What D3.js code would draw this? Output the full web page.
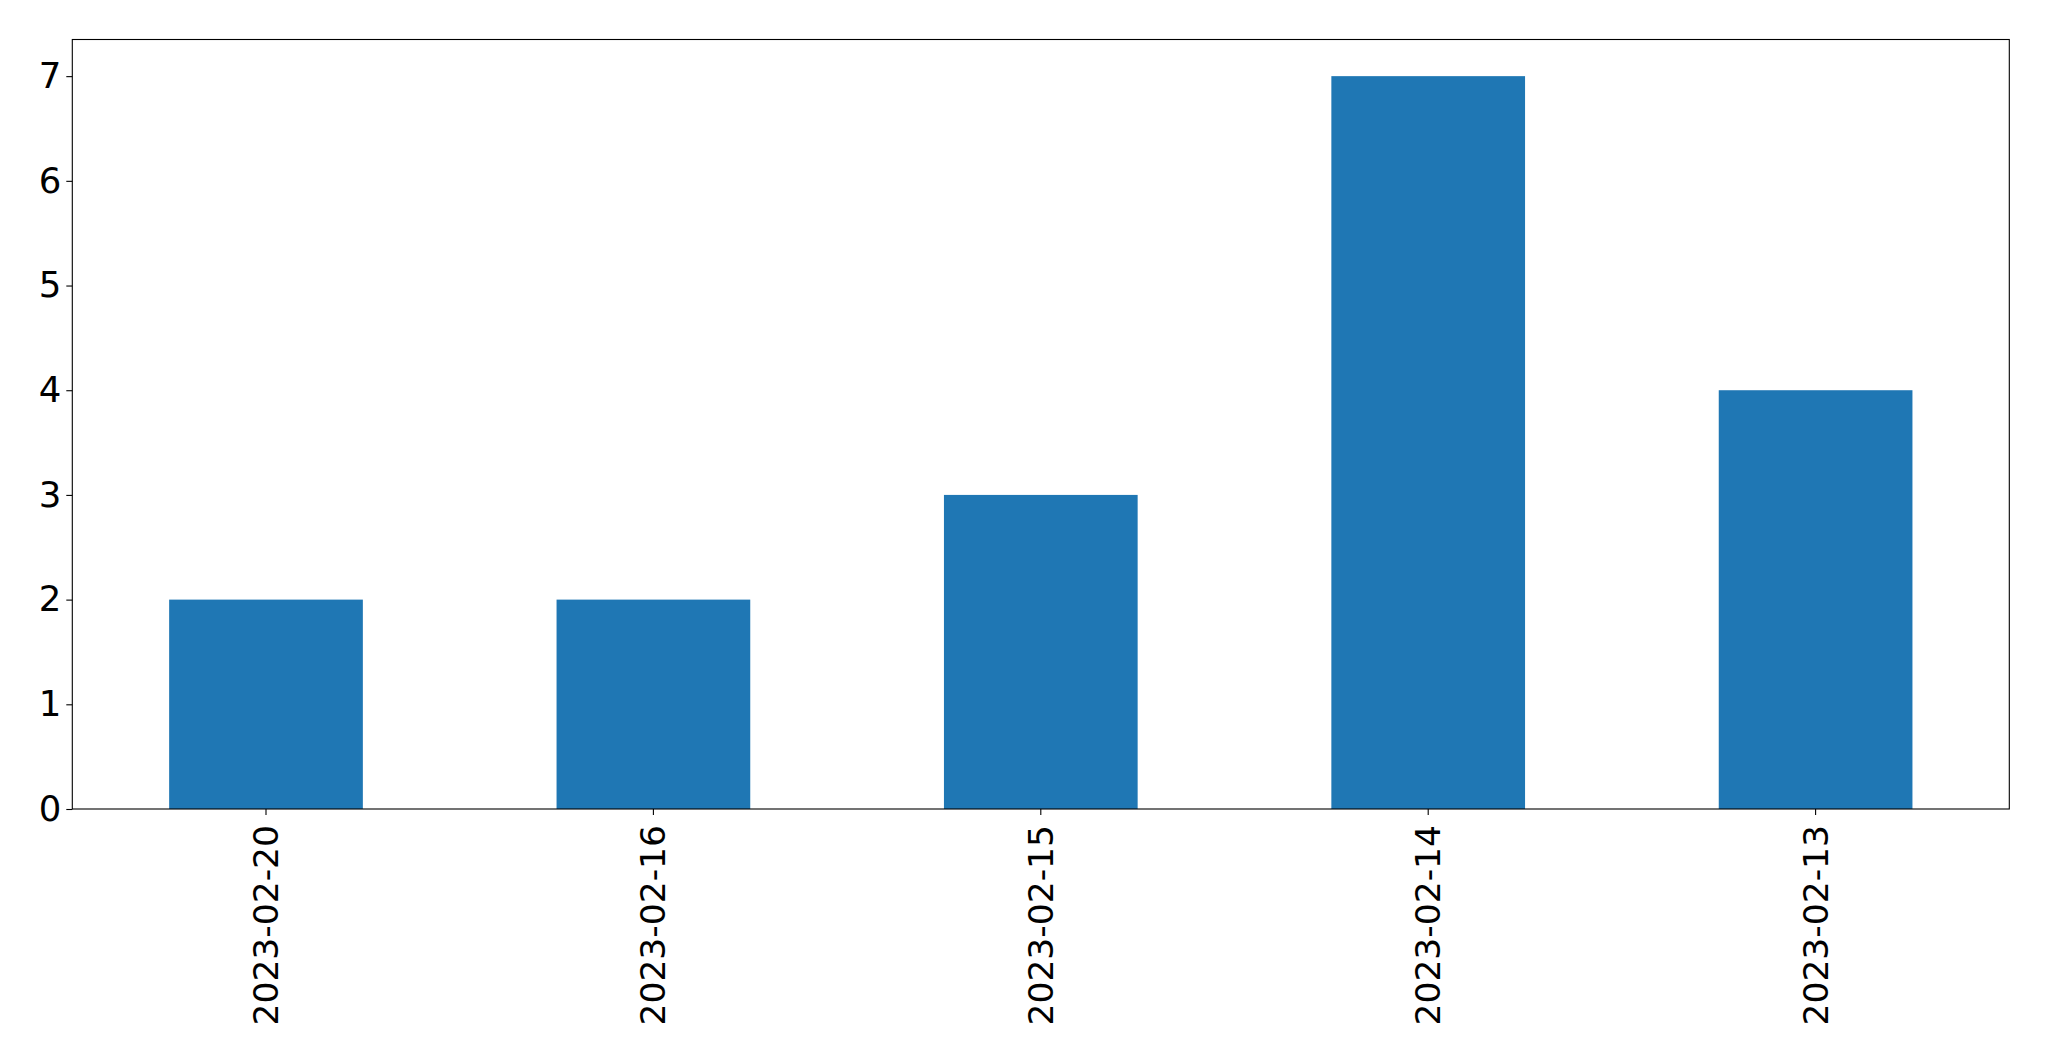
<!DOCTYPE html>
<html><head><meta charset="utf-8">
<script src="https://cdn.jsdelivr.net/npm/d3@7"></script>
<style>body{margin:0;background:#fff}svg{display:block}</style>
</head><body>
<script>
const categories = ["2023-02-20","2023-02-16","2023-02-15","2023-02-14","2023-02-13"];
const values = [2,2,3,7,4];
const yTicks = [0,1,2,3,4,5,6,7];

const W = 2049, H = 1061;
const m = {left:72.3, right:2009.3, top:39.5, bottom:809};
const fsX = 34.5, fsY = 35.5;
const svg = d3.select("body").append("svg").attr("width",W).attr("height",H)
  .style("font-family","'DejaVu Sans', sans-serif");

const x = d3.scaleBand().domain(categories).range([m.left,m.right]).paddingInner(0.5).paddingOuter(0.25);
const y = d3.scaleLinear().domain([0, d3.max(values)*1.05]).range([m.bottom,m.top]);

svg.append("g").selectAll("rect").data(values).join("rect")
  .attr("x",(d,i)=>x(categories[i])).attr("width",x.bandwidth())
  .attr("y",d=>y(d)).attr("height",d=>y(0)-y(d)).attr("fill","#1f77b4");

// frame
svg.append("rect").attr("x",m.left).attr("y",m.top).attr("width",m.right-m.left).attr("height",m.bottom-m.top)
  .attr("fill","none").attr("stroke","#000").attr("stroke-width",1.1);

const ya = svg.append("g").attr("transform",`translate(${m.left},0)`)
  .call(d3.axisLeft(y).tickValues(yTicks).tickFormat(d3.format("d")).tickSize(6).tickPadding(5));
ya.select(".domain").remove();
ya.selectAll("line").attr("stroke","#000").attr("stroke-width",1.1);
ya.selectAll("text").attr("font-size",fsY).attr("fill","#000").attr("font-family","'DejaVu Sans', sans-serif");

const xa = svg.append("g").attr("transform",`translate(0,${m.bottom})`)
  .call(d3.axisBottom(x).tickSize(6).tickPadding(5));
xa.select(".domain").remove();
xa.selectAll("line").attr("stroke","#000").attr("stroke-width",1.1);
xa.selectAll("text").attr("font-size",fsX).attr("fill","#000").attr("font-family","'DejaVu Sans', sans-serif")
  .attr("transform","rotate(-90)").attr("text-anchor","end").attr("dy","0.35em")
  .attr("x",-16).attr("y",0);
</script>
</body></html>
